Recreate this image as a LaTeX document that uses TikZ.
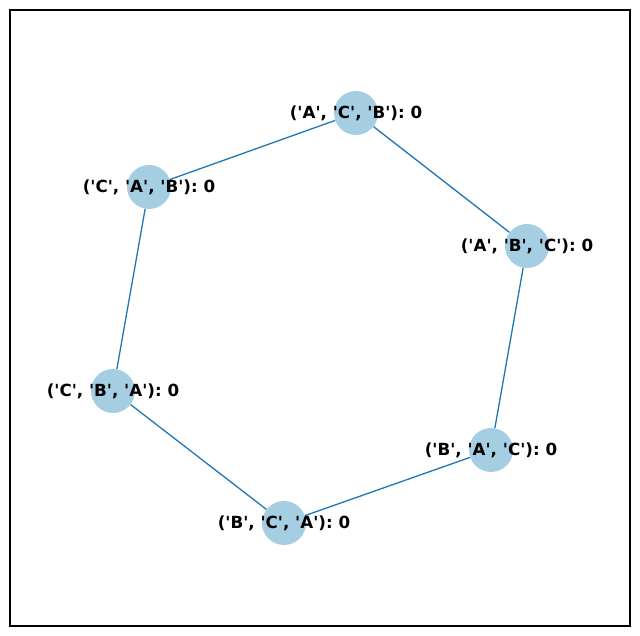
\documentclass[tikz,border=0pt]{standalone}
\usepackage{fontspec}
\setmainfont{DejaVu Sans}[Ligatures=TeXOff]
\usetikzlibrary{positioning}
\definecolor{NodeBlue}{HTML}{A6CEE3}
\definecolor{EdgeBlue}{HTML}{1F77B4}
\tikzset{
    vertex/.style={circle, fill=NodeBlue, minimum size=44pt, inner sep=0pt},
    perm/.style={font=\bfseries\fontsize{16.7}{20}\selectfont, text=black, inner sep=0pt},
    edge/.style={draw=EdgeBlue, line width=1.3pt},
}
\begin{document}
\begin{tikzpicture}[x=1pt, y=1pt]
    % Riquadro
    \useasboundingbox (0,0) rectangle (640,636);
    \draw[line width=1.1pt] (10,10) rectangle (630,626);

    % Nodi
    \node[vertex] (acb) at (356,523) {};
    \node[vertex] (cab) at (149,449) {};
    \node[vertex] (abc) at (527,390) {};
    \node[vertex] (cba) at (113,245) {};
    \node[vertex] (bac) at (491,186) {};
    \node[vertex] (bca) at (284,113) {};

    % Archi
    \draw[edge] (acb) -- (cab);
    \draw[edge] (acb) -- (abc);
    \draw[edge] (cab) -- (cba);
    \draw[edge] (cba) -- (bca);
    \draw[edge] (bca) -- (bac);
    \draw[edge] (bac) -- (abc);

    % Etichette
    \node[perm] (acb_lbl) at (acb) {('A', 'C', 'B'): 0};
    \node[perm] (cab_lbl) at (cab) {('C', 'A', 'B'): 0};
    \node[perm] (abc_lbl) at (abc) {('A', 'B', 'C'): 0};
    \node[perm] (cba_lbl) at (cba) {('C', 'B', 'A'): 0};
    \node[perm] (bac_lbl) at (bac) {('B', 'A', 'C'): 0};
    \node[perm] (bca_lbl) at (bca) {('B', 'C', 'A'): 0};
\end{tikzpicture}
\end{document}
